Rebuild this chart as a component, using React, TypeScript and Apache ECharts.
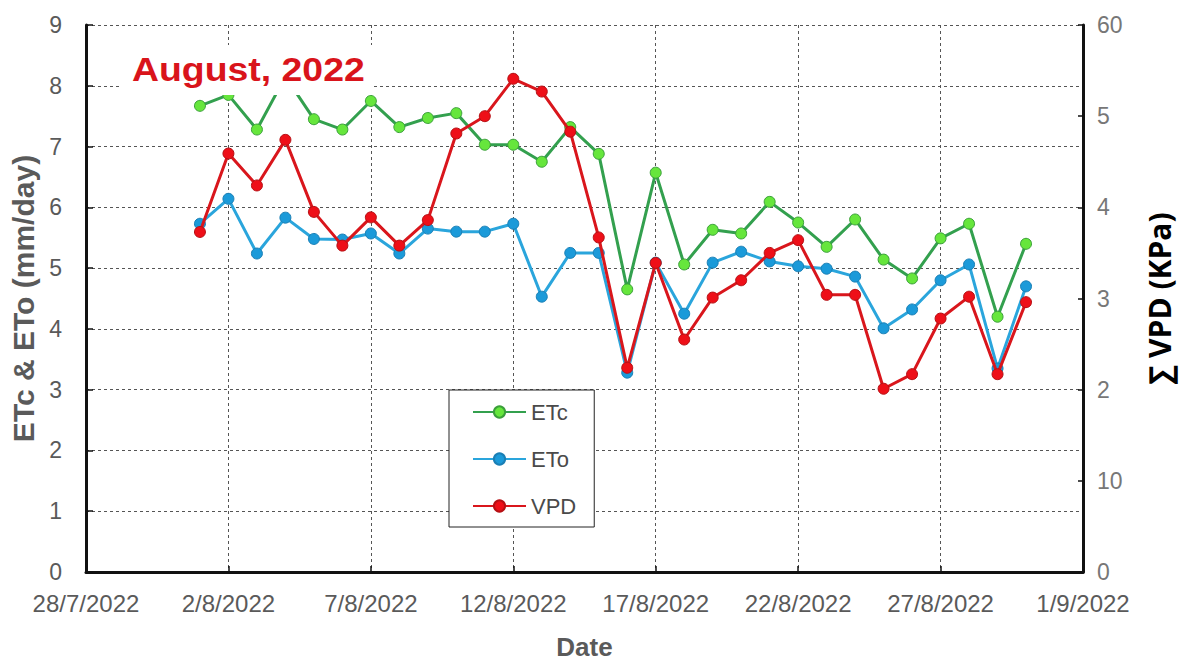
import React, { useEffect, useRef } from "react";
import * as echarts from "echarts";

// Days of August 2022 with measurements
const augustDays = [1, 2, 3, 4, 5, 6, 7, 8, 9, 10, 11, 12, 13, 14, 15, 16, 17, 18, 19, 20, 21, 22, 23, 24, 25, 26, 27, 28, 29, 30];
// Offset of 1/8/2022 from axis origin 28/7/2022 (in days) minus 1
const dayOffset = 3;

const etcValues = [7.67, 7.85, 7.28, 8.15, 7.45, 7.28, 7.75, 7.32, 7.47, 7.55, 7.03, 7.03, 6.75, 7.32, 6.88, 4.65, 6.57, 5.06, 5.63, 5.57, 6.09, 5.75, 5.35, 5.8, 5.14, 4.83, 5.49, 5.73, 4.2, 5.4];
const etoValues = [5.73, 6.14, 5.24, 5.83, 5.48, 5.47, 5.57, 5.24, 5.65, 5.6, 5.6, 5.73, 4.53, 5.25, 5.25, 3.28, 5.09, 4.25, 5.09, 5.27, 5.11, 5.03, 4.99, 4.86, 4.01, 4.32, 4.8, 5.06, 3.35, 4.7];
const vpdValues = [37.3, 45.9, 42.4, 47.4, 39.5, 35.8, 38.9, 35.8, 38.6, 48.1, 50.0, 54.1, 52.7, 48.3, 36.7, 22.4, 33.9, 25.5, 30.1, 32.0, 35.0, 36.4, 30.4, 30.4, 20.1, 21.7, 27.8, 30.2, 21.7, 29.6];

const xTickLabels = ["28/7/2022", "2/8/2022", "7/8/2022", "12/8/2022", "17/8/2022", "22/8/2022", "27/8/2022", "1/9/2022"];
const leftTickLabels = ["0", "1", "2", "3", "4", "5", "6", "7", "8", "9"];
const rightTickLabels = ["0", "10", "2", "3", "4", "5", "60"];

const seriesNames = ["ETc", "ETo", "VPD"];

export default function App() {
  const ref = useRef<HTMLDivElement>(null);
  useEffect(() => {
    if (!ref.current) return;
    const chart = echarts.init(ref.current, null, { renderer: "svg" });
    const toPairs = (vals: number[]) => augustDays.map((d, i) => [d + dayOffset, vals[i]]);
    const gray = "#5a5a5a";
    const gridLine = { show: true, lineStyle: { color: "#555", width: 1, type: [3, 3] as any } };
    chart.setOption({
      animation: false,
      backgroundColor: "#fff",
      grid: { left: 86, right: 100, top: 25, bottom: 91, containLabel: false, outerBoundsMode: "none" },
      legend: {
        orient: "vertical",
        left: 449,
        top: 390,
        data: seriesNames,
        itemWidth: 53,
        itemHeight: 14,
        itemGap: 25,
        padding: [11, 18, 10, 23],
        borderColor: "#222",
        borderWidth: 1,
        backgroundColor: "#fff",
        textStyle: { color: "#4a4a4a", fontSize: 22, fontFamily: "Liberation Sans" },
      },
      xAxis: {
        type: "value",
        min: 0,
        max: 35,
        interval: 5,
        name: "Date",
        nameLocation: "middle",
        nameGap: 62,
        nameTextStyle: { color: gray, fontSize: 26, lineHeight: 26, fontWeight: "bold", fontFamily: "Liberation Sans" },
        axisLine: { show: true, onZero: false, lineStyle: { color: "#111", width: 3 } },
        axisTick: { show: true, inside: true, length: 6, lineStyle: { color: "#111", width: 1.5 } },
        axisLabel: {
          color: gray,
          fontSize: 24,
          fontFamily: "Liberation Sans",
          margin: 19,
          formatter: (v: number) => xTickLabels[Math.round(v / 5)] ?? "",
        },
        splitLine: gridLine,
      },
      yAxis: [
        {
          type: "value",
          min: 0,
          max: 9,
          interval: 1,
          position: "left",
          name: "ETc & ETo (mm/day)",
          nameLocation: "middle",
          nameRotate: 90,
          nameGap: 41,
          nameTextStyle: { color: gray, fontSize: 30, fontWeight: "bold", fontFamily: "Liberation Sans" },
          axisLine: { show: true, lineStyle: { color: "#111", width: 3 } },
          axisTick: { show: true, inside: true, length: 7, lineStyle: { color: "#111", width: 1.5 } },
          axisLabel: {
            color: gray,
            fontSize: 23,
            fontFamily: "Liberation Sans",
            margin: 24,
            formatter: (v: number) => leftTickLabels[Math.round(v)] ?? "",
          },
          splitLine: gridLine,
        },
        {
          type: "value",
          min: 0,
          max: 60,
          interval: 10,
          position: "right",
          name: "∑ VPD (KPa)",
          nameLocation: "middle",
          nameRotate: 90,
          nameGap: 60,
          nameTextStyle: { color: "#000", fontSize: 30, lineHeight: 32, fontWeight: "bold", fontFamily: "Open Sans" },
          axisLine: { show: true, lineStyle: { color: "#111", width: 3 } },
          axisTick: { show: true, inside: true, length: 5, lineStyle: { color: "#111", width: 1.5 } },
          axisLabel: {
            color: "#777",
            fontSize: 23,
            fontFamily: "Liberation Sans",
            margin: 14,
            formatter: (v: number) => rightTickLabels[Math.round(v / 10)] ?? "",
          },
          splitLine: { show: false },
        },
      ],
      series: [
        {
          name: "ETc",
          type: "line",
          yAxisIndex: 0,
          data: toPairs(etcValues),
          symbol: "circle",
          symbolSize: 11,
          lineStyle: { color: "#33a04e", width: 3 },
          itemStyle: { color: "#66e63c", borderColor: "#3a9f3a", borderWidth: 1 },
          z: 2,
        },
        {
          name: "ETo",
          type: "line",
          yAxisIndex: 0,
          data: toPairs(etoValues),
          symbol: "circle",
          symbolSize: 11,
          lineStyle: { color: "#2aa5dc", width: 3 },
          itemStyle: { color: "#1b9ad9", borderColor: "#1a7fb5", borderWidth: 1 },
          z: 3,
        },
        {
          name: "VPD",
          type: "line",
          yAxisIndex: 1,
          data: toPairs(vpdValues),
          symbol: "circle",
          symbolSize: 11,
          lineStyle: { color: "#d9161c", width: 3 },
          itemStyle: { color: "#ee0f18", borderColor: "#b51014", borderWidth: 1 },
          z: 4,
        },
      ],
      graphic: [
        {
          type: "rect",
          z: 100,
          shape: { x: 120, y: 45, width: 253, height: 50 },
          style: { fill: "#fff" },
        },
        {
          type: "text",
          z: 101,
          x: 132,
          y: 70,
          scaleX: 1.1,
          style: {
            text: "August, 2022",
            fill: "#d9141b",
            fontSize: 34,
            fontWeight: "bold",
            fontFamily: "Liberation Sans",
            textVerticalAlign: "middle",
          },
        },
      ],
    });
    return () => chart.dispose();
  }, []);
  return <div ref={ref} style={{ position: "fixed", left: 0, top: 0, width: 1183, height: 663 }} />;
}
